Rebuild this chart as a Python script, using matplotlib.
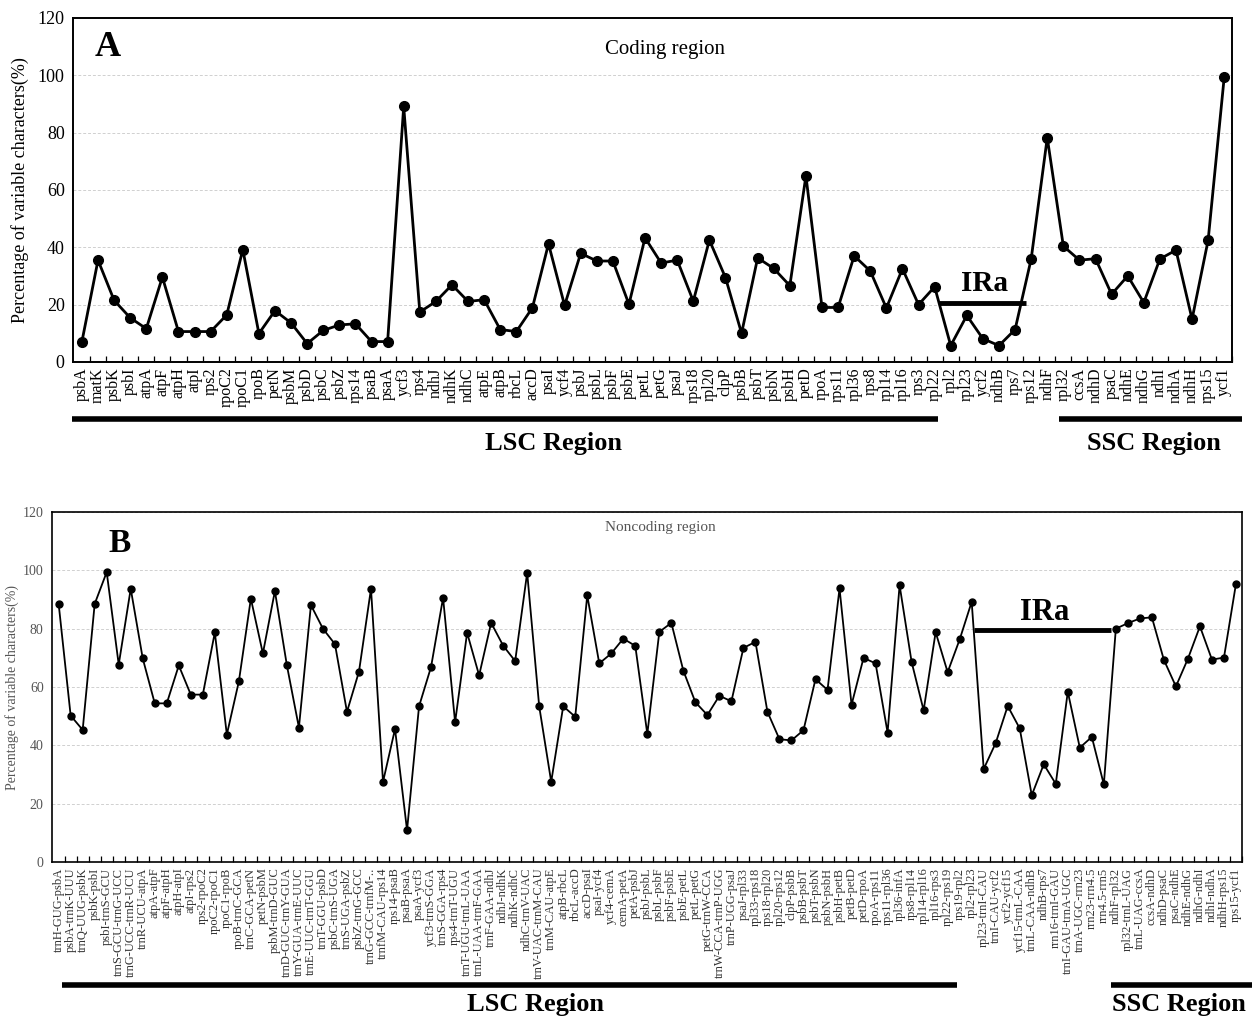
import numpy as np
import matplotlib
matplotlib.use("Agg")
from matplotlib import pyplot as plt
from matplotlib import transforms

plt.rcParams['font.family'] = ['Liberation Serif', 'DejaVu Serif']

# panel A: coding region
coding_genes = [
  'psbA', 'matK', 'psbK', 'psbI', 'atpA', 'atpF', 'atpH', 'atpI', 'rps2', 'rpoC2',
  'rpoC1', 'rpoB', 'petN', 'psbM', 'psbD', 'psbC', 'psbZ', 'rps14', 'psaB', 'psaA',
  'ycf3', 'rps4', 'ndhJ', 'ndhK', 'ndhC', 'atpE', 'atpB', 'rbcL', 'accD', 'psaI',
  'ycf4', 'psbJ', 'psbL', 'psbF', 'psbE', 'petL', 'petG', 'psaJ', 'rps18', 'rpl20',
  'clpP', 'psbB', 'psbT', 'psbN', 'psbH', 'petD', 'rpoA', 'rps11', 'rpl36', 'rps8',
  'rpl14', 'rpl16', 'rps3', 'rpl22', 'rpl2', 'rpl23', 'ycf2', 'ndhB', 'rps7', 'rps12',
  'ndhF', 'rpl32', 'ccsA', 'ndhD', 'psaC', 'ndhE', 'ndhG', 'ndhI', 'ndhA', 'ndhH',
  'rps15', 'ycf1',
]
coding_values = [
  7.1, 35.5, 21.5, 15.4, 11.6, 29.6, 10.6, 10.6, 10.6, 16.4,
  39.2, 9.9, 17.9, 13.6, 6.4, 11.0, 12.9, 13.3, 7.1, 7.1,
  89.1, 17.4, 21.1, 26.9, 21.1, 21.7, 11.3, 10.6, 18.9, 41.2,
  19.7, 37.9, 35.2, 35.2, 20.1, 43.3, 34.5, 35.5, 21.2, 42.5,
  29.4, 10.0, 36.3, 32.6, 26.6, 64.9, 19.0, 19.0, 37.0, 31.7,
  18.8, 32.5, 20.0, 26.2, 5.7, 16.2, 8.1, 5.7, 11.3, 35.9,
  78.2, 40.4, 35.5, 36.0, 23.6, 30.0, 20.7, 35.9, 39.0, 14.9,
  42.5, 99.4,
]

# panel B: noncoding region
noncoding_regions = [
  'trnH-GUG-psbA', 'psbA-trnK-UUU', 'trnQ-UUG-psbK', 'psbK-psbI', 'psbI-trnS-GCU',
  'trnS-GCU-trnG-UCC', 'trnG-UCC-trnR-UCU', 'trnR-UCU-atpA', 'atpA-atpF', 'atpF-atpH',
  'atpH-atpI', 'atpI-rps2', 'rps2-rpoC2', 'rpoC2-rpoC1', 'rpoC1-rpoB',
  'rpoB-trnC-GCA', 'trnC-GCA-petN', 'petN-psbM', 'psbM-trnD-GUC', 'trnD-GUC-trnY-GUA',
  'trnY-GUA-trnE-UUC', 'trnE-UUC-trnT-GGU', 'trnT-GGU-psbD', 'psbC-trnS-UGA', 'trnS-UGA-psbZ',
  'psbZ-trnG-GCC', 'trnG-GCC-trnfM-..', 'trnfM-CAU-rps14', 'rps14-psaB', 'psaB-psaA',
  'psaA-ycf3', 'ycf3-trnS-GGA', 'trnS-GGA-rps4', 'rps4-trnT-UGU', 'trnT-UGU-trnL-UAA',
  'trnL-UAA-trnF-GAA', 'trnF-GAA-ndhJ', 'ndhJ-ndhK', 'ndhK-ndhC', 'ndhC-trnV-UAC',
  'trnV-UAC-trnM-CAU', 'trnM-CAU-atpE', 'atpB-rbcL', 'rbcL-accD', 'accD-psaI',
  'psaI-ycf4', 'ycf4-cemA', 'cemA-petA', 'petA-psbJ', 'psbJ-psbL',
  'psbL-psbF', 'psbF-psbE', 'psbE-petL', 'petL-petG', 'petG-trnW-CCA',
  'trnW-CCA-trnP-UGG', 'trnP-UGG-psaJ', 'psaJ-rpl33', 'rpl33-rps18', 'rps18-rpl20',
  'rpl20-rps12', 'clpP-psbB', 'psbB-psbT', 'psbT-psbN', 'psbN-psbH',
  'psbH-petB', 'petB-petD', 'petD-rpoA', 'rpoA-rps11', 'rps11-rpl36',
  'rpl36-infA', 'rps8-rpl14', 'rpl14-rpl16', 'rpl16-rps3', 'rpl22-rps19',
  'rps19-rpl2', 'rpl2-rpl23', 'rpl23-trnI-CAU', 'trnI-CAU-ycf2', 'ycf2-ycf15',
  'ycf15-trnL-CAA', 'trnL-CAA-ndhB', 'ndhB-rps7', 'rrn16-trnI-GAU', 'trnI-GAU-trnA-UGC',
  'trnA-UGC-rrn23', 'rrn23-rrn4.5', 'rrn4.5-rrn5', 'ndhF-rpl32', 'rpl32-trnL-UAG',
  'trnL-UAG-ccsA', 'ccsA-ndhD', 'ndhD-psaC', 'psaC-ndhE', 'ndhE-ndhG',
  'ndhG-ndhI', 'ndhI-ndhA', 'ndhH-rps15', 'rps15-ycf1',
]
noncoding_values = [
  88.5, 50.2, 45.3, 88.5, 99.4, 67.7, 93.7, 69.8, 54.4, 54.4,
  67.4, 57.4, 57.4, 78.7, 43.7, 61.9, 90.3, 71.5, 92.9, 67.4,
  46.1, 88.1, 80.0, 74.7, 51.5, 65.3, 93.7, 27.5, 45.6, 10.9,
  53.4, 66.9, 90.6, 47.9, 78.6, 64.0, 82.0, 74.2, 68.9, 99.2,
  53.4, 27.5, 53.4, 49.8, 91.4, 68.1, 71.5, 76.6, 74.1, 43.9,
  78.9, 82.0, 65.6, 54.8, 50.4, 57.0, 55.1, 73.4, 75.5, 51.5,
  42.1, 41.7, 45.2, 62.7, 59.0, 93.8, 53.9, 70.0, 68.1, 44.4,
  94.9, 68.6, 52.0, 78.8, 65.1, 76.3, 89.2, 31.9, 40.8, 53.5,
  45.8, 22.9, 33.5, 26.8, 58.4, 39.2, 42.9, 26.6, 80.0, 81.9,
  83.5, 83.9, 69.3, 60.2, 69.7, 80.8, 69.4, 70.1, 95.4,
]

YLABEL = 'Percentage of variable characters(%)'


def region_bar(ax, x0, x1, y, lw=4):
  trans = transforms.blended_transform_factory(ax.transData, ax.transAxes)
  ax.plot([x0, x1], [y, y], transform=trans, color='black', lw=lw,
          clip_on=False, solid_capstyle='butt')


def region_text(ax, x, y, label, size):
  trans = transforms.blended_transform_factory(ax.transData, ax.transAxes)
  ax.text(x, y, label, transform=trans, ha='center', va='center',
          fontsize=size, fontweight='bold')


def style_axes(ax, n, ytick_size, ytick_color, xtick_size, xtick_color, spine_w):
  ax.set_ylim(0, 120)
  ax.set_xlim(-0.55, n - 0.5)
  ax.set_yticks(range(0, 121, 20))
  ax.yaxis.grid(True, linestyle=(0, (3, 2)), color='#d0d0d0', lw=0.7)
  ax.set_axisbelow(True)
  ax.tick_params(axis='y', length=0, pad=6, labelsize=ytick_size, labelcolor=ytick_color)
  ax.set_xticks(np.arange(n))
  ax.set_xticks(np.arange(n) + 0.5, minor=True)
  ax.tick_params(axis='x', which='major', length=0, pad=4,
                 labelsize=xtick_size, labelcolor=xtick_color, rotation=90)
  ax.tick_params(axis='x', which='minor', direction='in', length=4, width=0.9)
  for s in ax.spines.values():
    s.set_linewidth(spine_w)


fig = plt.figure(figsize=(12.6, 10.21), dpi=100)

# ---- A
ax_a = fig.add_axes([0.058, 0.6455, 0.920, 0.337])
xa = np.arange(len(coding_genes))
ax_a.plot(xa, coding_values, color='black', lw=2.0, marker='o', ms=7)
style_axes(ax_a, len(coding_genes), 13, 'black', 11.5, 'black', 1.4)
ax_a.set_xticklabels(coding_genes)
ax_a.set_ylabel(YLABEL, fontsize=13, labelpad=6)
ax_a.text(0.030, 0.915, 'A', transform=ax_a.transAxes, fontsize=26,
          fontweight='bold', ha='center', va='center')
ax_a.text(0.511, 0.907, 'Coding region', transform=ax_a.transAxes,
          fontsize=15, ha='center', va='center')
ax_a.plot([53.3, 58.7], [20.6, 20.6], color='black', lw=3.5, solid_capstyle='butt')
ax_a.text(56.1, 27.5, 'IRa', fontsize=21, fontweight='bold', ha='center', va='center')
region_bar(ax_a, -0.62, 53.2, -0.166)
region_bar(ax_a, 60.7, 72.1, -0.166)
region_text(ax_a, 29.3, -0.236, 'LSC Region', 19)
region_text(ax_a, 66.6, -0.236, 'SSC Region', 19)

# ---- B
ax_b = fig.add_axes([0.0413, 0.1557, 0.9444, 0.3428])
xb = np.arange(len(noncoding_regions))
ax_b.plot(xb, noncoding_values, color='black', lw=1.3, marker='o', ms=5)
style_axes(ax_b, len(noncoding_regions), 10, '#555555', 9, '#333333', 1.2)
ax_b.set_xticklabels(noncoding_regions)
ax_b.set_ylabel(YLABEL, fontsize=10, color='#555555', labelpad=3)
ax_b.text(0.057, 0.911, 'B', transform=ax_b.transAxes, fontsize=24,
          fontweight='bold', ha='center', va='center')
ax_b.text(0.511, 0.957, 'Noncoding region', transform=ax_b.transAxes,
          fontsize=11, color='#555555', ha='center', va='center')
ax_b.plot([76.2, 87.6], [79.5, 79.5], color='black', lw=3.5, solid_capstyle='butt')
ax_b.text(82.1, 85.5, 'IRa', fontsize=22, fontweight='bold', ha='center', va='center')
region_bar(ax_b, 0.25, 74.8, -0.351)
region_bar(ax_b, 87.6, 99.3, -0.351)
region_text(ax_b, 39.7, -0.406, 'LSC Region', 19)
region_text(ax_b, 93.25, -0.406, 'SSC Region', 19)

fig.savefig('out.png', dpi=100)
